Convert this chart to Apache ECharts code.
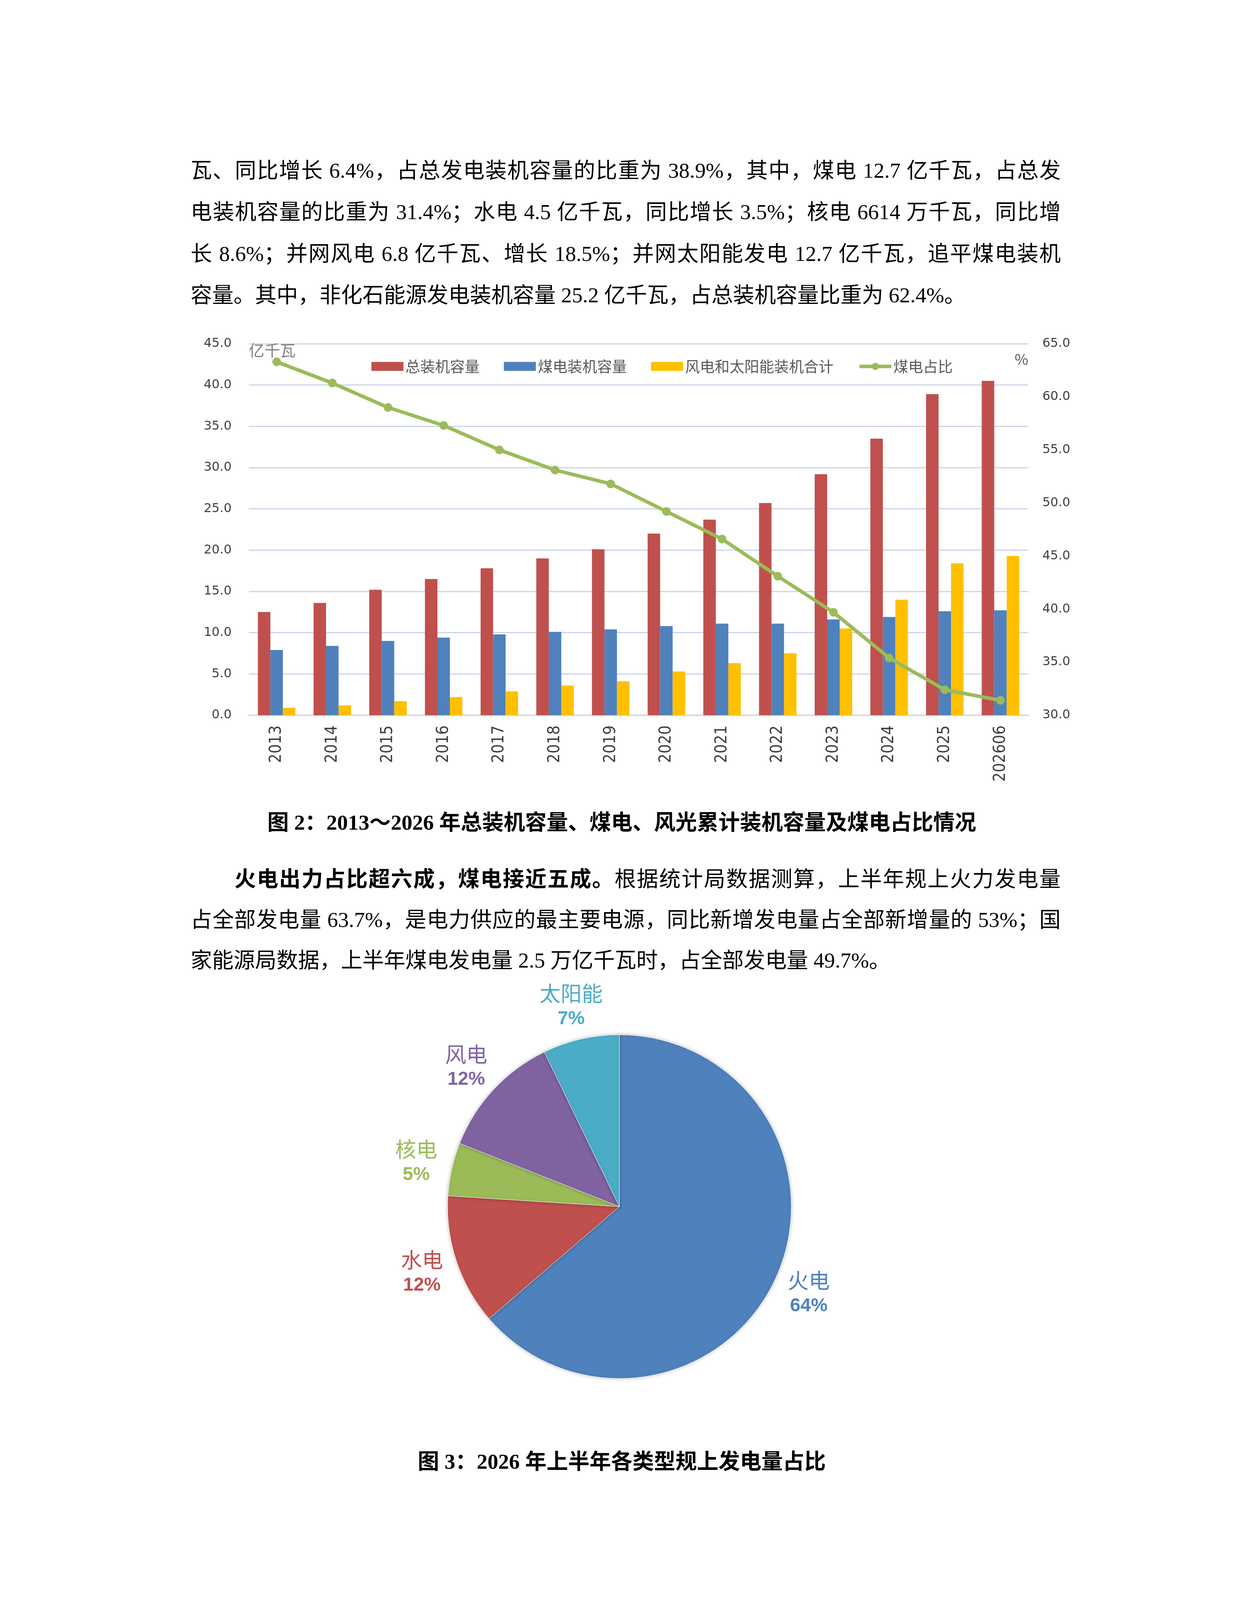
<!DOCTYPE html>
<html>
<head>
<meta charset="utf-8">
<title>装机容量与发电量占比</title>
<script src="https://cdn.jsdelivr.net/npm/echarts@6/dist/echarts.min.js"></script>
<style>
  html, body { margin: 0; padding: 0; background: #fff; }
  #page { position: relative; width: 3175px; height: 4490px; overflow: hidden; }
  #chart { position: absolute; left: 0; top: 0; width: 3175px; height: 4490px; }
  .t {
    position: absolute; left: 488px; width: 2228px;
    font-family: "Liberation Serif", "Noto Sans CJK SC", serif;
    font-size: 55px; line-height: 106px; color: #000;
    text-align: justify; text-align-last: justify;
  }
  .t.last { text-align-last: left; }
  .t b { font-weight: bold; }
  .cap {
    position: absolute; left: 478px; width: 2228px; text-align: center;
    font-family: "Liberation Serif", "Noto Sans CJK SC", serif;
    font-size: 55px; line-height: 80px; font-weight: bold; color: #000;
  }
</style>
</head>
<body>
<div id="page">
  <div id="chart"></div>

  <div class="t" style="top:384px;">瓦、同比增长 6.4%，占总发电装机容量的比重为 38.9%，其中，煤电 12.7 亿千瓦，占总发</div>
  <div class="t" style="top:490px;">电装机容量的比重为 31.4%；水电 4.5 亿千瓦，同比增长 3.5%；核电 6614 万千瓦，同比增</div>
  <div class="t" style="top:597px;">长 8.6%；并网风电 6.8 亿千瓦、增长 18.5%；并网太阳能发电 12.7 亿千瓦，追平煤电装机</div>
  <div class="t last" style="top:703px;">容量。其中，非化石能源发电装机容量 25.2 亿千瓦，占总装机容量比重为 62.4%。</div>

  <div class="cap" style="top:2066px;">图 2：2013～2026 年总装机容量、煤电、风光累计装机容量及煤电占比情况</div>

  <div class="t" style="top:2198px;">&emsp;&emsp;<b>火电出力占比超六成，煤电接近五成。</b>根据统计局数据测算，上半年规上火力发电量</div>
  <div class="t" style="top:2302px;">占全部发电量 63.7%，是电力供应的最主要电源，同比新增发电量占全部新增量的 53%；国</div>
  <div class="t last" style="top:2406px;">家能源局数据，上半年煤电发电量 2.5 万亿千瓦时，占全部发电量 49.7%。</div>

  <div class="cap" style="top:3702px;">图 3：2026 年上半年各类型规上发电量占比</div>
</div>

<script type="text/javascript">
    // 图2 数据（亿千瓦 / %）
    var years = ['2013', '2014', '2015', '2016', '2017', '2018', '2019',
                 '2020', '2021', '2022', '2023', '2024', '2025', '202606'];
    var totalCap = [12.5, 13.6, 15.2, 16.5, 17.8, 19.0, 20.1, 22.0, 23.7, 25.7, 29.2, 33.5, 38.9, 40.5];
    var coalCap = [7.9, 8.4, 9.0, 9.4, 9.8, 10.1, 10.4, 10.8, 11.1, 11.1, 11.6, 11.9, 12.6, 12.7];
    var windSolarCap = [0.9, 1.2, 1.7, 2.2, 2.9, 3.6, 4.1, 5.3, 6.3, 7.5, 10.5, 14.0, 18.4, 19.3];
    var coalShare = [63.3, 61.3, 59.0, 57.3, 55.0, 53.1, 51.8, 49.2, 46.6, 43.1, 39.7, 35.4, 32.4, 31.4];
    var seriesNames = ['总装机容量', '煤电装机容量', '风电和太阳能装机合计', '煤电占比'];

    // 图3 数据（%）
    var pieNames = ['火电', '水电', '核电', '风电', '太阳能'];
    var pieValues = [63.7, 12.3, 5.0, 11.8, 7.2];
    var pieColors = ['#4F81BD', '#C0504D', '#9BBB59', '#8064A2', '#4BACC6'];

    var myChart = echarts.init(document.getElementById('chart'));

    var axisLabelStyle = {
        color: '#404040',
        fontSize: 32,
        fontFamily: 'DejaVu Sans',
        formatter: function (v) { return v.toFixed(1); }
    };

    var pieData = pieNames.map(function (n, i) {
        return {
            name: n,
            value: pieValues[i],
            itemStyle: { color: pieColors[i] },
            label: { color: pieColors[i] }
        };
    });

    var option = {
        backgroundColor: '#fff',
        animation: false,
        grid: {
            left: 637, top: 880, width: 1996, height: 951,
            outerBoundsMode: 'none'
        },
        legend: {
            left: 946,
            top: 911,
            itemWidth: 82,
            itemHeight: 23,
            itemGap: 62,
            textStyle: {
                color: '#595959',
                fontSize: 38,
                lineHeight: 44,
                fontFamily: 'Noto Sans CJK SC'
            },
            data: [
                { name: seriesNames[0], icon: 'rect' },
                { name: seriesNames[1], icon: 'rect' },
                { name: seriesNames[2], icon: 'rect' },
                { name: seriesNames[3], lineStyle: { width: 9 } }
            ]
        },
        xAxis: {
            type: 'category',
            data: years,
            axisTick: { show: false },
            axisLine: { lineStyle: { color: '#D9D9D9', width: 4 } },
            axisLabel: {
                rotate: 90,
                margin: 26,
                color: '#404040',
                fontSize: 42,
                fontFamily: 'Liberation Sans Narrow, DejaVu Sans Condensed, Liberation Sans'
            }
        },
        yAxis: [
            {
                type: 'value',
                min: 0, max: 45, interval: 5,
                name: '亿千瓦',
                nameLocation: 'end',
                nameGap: -17,
                nameTextStyle: {
                    color: '#808080', fontSize: 40, align: 'left',
                    verticalAlign: 'middle', fontFamily: 'Noto Sans CJK SC'
                },
                axisLine: { show: false },
                axisTick: { show: false },
                axisLabel: Object.assign({ margin: 44 }, axisLabelStyle),
                splitLine: { lineStyle: { color: '#C9D6EA', width: 3 } }
            },
            {
                type: 'value',
                position: 'right',
                min: 30, max: 65, interval: 5,
                name: '%',
                nameLocation: 'end',
                nameGap: -40,
                nameTextStyle: {
                    color: '#595959', fontSize: 38, align: 'right',
                    verticalAlign: 'middle', fontFamily: 'Noto Sans CJK SC'
                },
                axisLine: { show: false },
                axisTick: { show: false },
                axisLabel: Object.assign({ margin: 36 }, axisLabelStyle),
                splitLine: { show: false }
            }
        ],
        series: [
            {
                name: seriesNames[0], type: 'bar', data: totalCap,
                barWidth: 32, barGap: '0%',
                itemStyle: { color: '#C0504D' }
            },
            {
                name: seriesNames[1], type: 'bar', data: coalCap,
                barWidth: 32, barGap: '0%',
                itemStyle: { color: '#4F81BD' }
            },
            {
                name: seriesNames[2], type: 'bar', data: windSolarCap,
                barWidth: 32, barGap: '0%',
                itemStyle: { color: '#FFC000' }
            },
            {
                name: seriesNames[3], type: 'line', yAxisIndex: 1, data: coalShare,
                symbol: 'circle', symbolSize: 22, z: 5,
                lineStyle: { color: '#9BBB59', width: 9 },
                itemStyle: { color: '#9BBB59' }
            },
            {
                name: '发电量占比',
                type: 'pie',
                center: [1586, 3089],
                radius: 440,
                startAngle: 90,
                clockwise: true,
                percentPrecision: 0,
                avoidLabelOverlap: false,
                itemStyle: {
                    borderColor: '#fff', borderWidth: 1,
                    shadowBlur: 10, shadowColor: 'rgba(0,0,0,0.25)'
                },
                label: {
                    position: 'outside',
                    formatter: '{n|{b}}\n{p|{d}%}',
                    rich: {
                        n: { fontSize: 54, lineHeight: 68, fontFamily: 'Noto Sans CJK SC', align: 'center' },
                        p: { fontSize: 48, lineHeight: 62, fontWeight: 'bold', fontFamily: 'Liberation Sans', align: 'center' }
                    }
                },
                labelLine: { show: false, length: 88, length2: 0 },
                labelLayout: function () {
                    return { align: 'center', verticalAlign: 'middle' };
                },
                data: pieData
            }
        ]
    };

    myChart.setOption(option);
</script>
</body>
</html>
